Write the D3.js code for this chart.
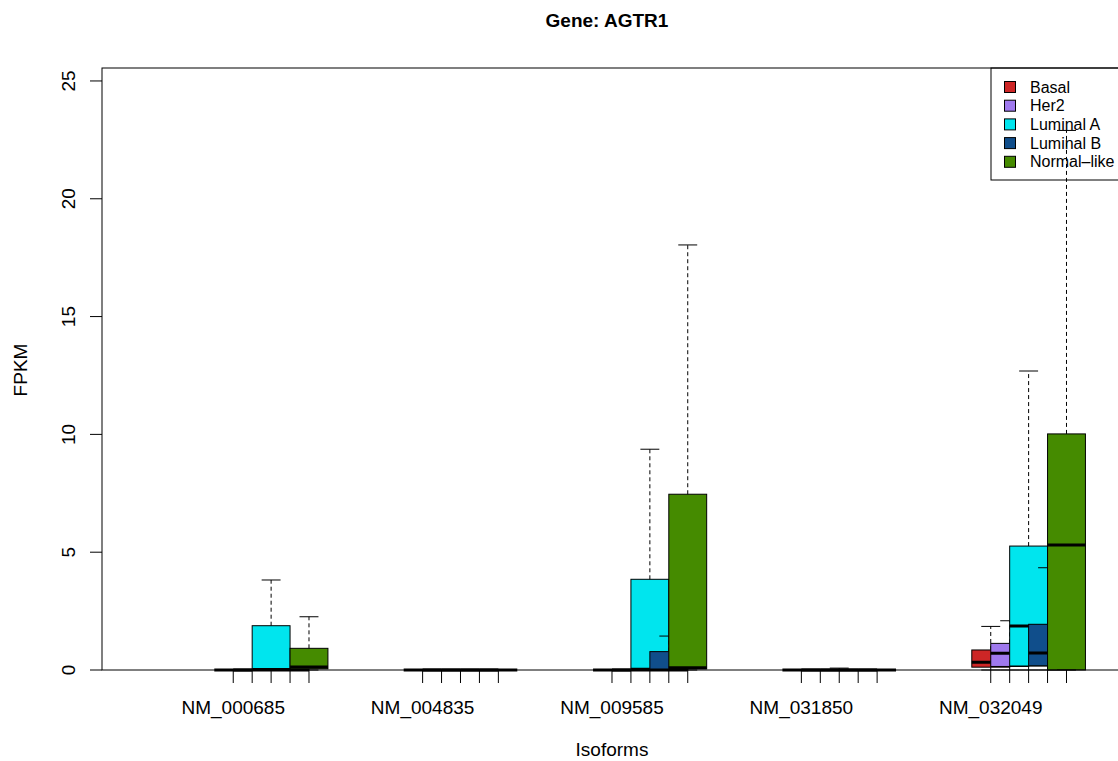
<!DOCTYPE html>
<html>
<head>
<meta charset="UTF-8">
<title>Gene: AGTR1</title>
<script src="https://d3js.org/d3.v7.min.js"></script>
<style>
  body { margin: 0; background: #fff; }
  text { font-family: "Liberation Sans", Arial, Helvetica, sans-serif; }
</style>
</head>
<body>
<div id="chart"></div>
<script>
// data: [low whisker, q1, median, q3, high whisker]
var isoforms = ["NM_000685", "NM_004835", "NM_009585", "NM_031850", "NM_032049"];
var subtypes = ["Basal", "Her2", "Luminal A", "Luminal B", "Normal-like"];
var colors = ["#CD2626", "#9F79EE", "#00E5EE", "#104E8B", "#458B00"];

var basal   = [[0,0,0,0,0], [0,0,0,0,0], [0,0,0,0,0], [0,0,0,0,0], [0,0.12,0.33,0.85,1.85]];
var her2    = [[0,0,0,0,0], [0,0,0,0,0], [0,0,0,0,0], [0,0,0,0,0], [0,0.15,0.71,1.13,2.09]];
var lumA    = [[0,0,0.02,1.88,3.82], [0,0,0,0,0], [0,0,0.03,3.85,9.37], [0,0,0,0,0.08], [0,0.17,1.87,5.26,12.69]];
var lumB    = [[0,0,0,0,0], [0,0,0,0,0], [0,0,0,0.78,1.44], [0,0,0,0,0], [0,0.18,0.72,1.94,4.34]];
var normal  = [[0,0.05,0.13,0.92,2.26], [0,0,0,0,0], [0,0.05,0.1,7.46,18.04], [0,0,0,0,0], [0,0,5.3,10.02,22.9]];
var series = [basal, her2, lumA, lumB, normal];
var yTicks = [0, 5, 10, 15, 20, 25];

var W = 1118, H = 761;
var mLeft = 102, mRight = 1120, mTop = 68, mBottom = 670;

var svg = d3.select("#chart").append("svg").attr("width", W).attr("height", H);

// each isoform occupies slots g*10+1 .. g*10+5
var x = d3.scaleLinear().domain([-5.93, 47.72]).range([mLeft, 1118]);
var y = d3.scaleLinear().domain([0, 25.55]).range([mBottom, mTop]);
var unit = x(1) - x(0);
var bw = unit * 2;

var boxes = [];
isoforms.forEach(function(iso, g) {
  subtypes.forEach(function(s, c) {
    var v = series[c][g];
    boxes.push({pos: g * 10 + c + 1, col: colors[c], lo: v[0], q1: v[1], med: v[2], q3: v[3], hi: v[4]});
  });
});

var gb = svg.append("g");
boxes.forEach(function(b) {
  var cx = x(b.pos);
  gb.append("rect")
    .attr("x", cx - bw / 2).attr("y", y(b.q3))
    .attr("width", bw).attr("height", Math.max(0, y(b.q1) - y(b.q3)))
    .attr("fill", b.col).attr("stroke", "#000").attr("stroke-width", 1);
  // whiskers
  [[b.q3, b.hi], [b.q1, b.lo]].forEach(function(w) {
    if (w[0] !== w[1]) {
      gb.append("line").attr("x1", cx).attr("x2", cx)
        .attr("y1", y(w[0])).attr("y2", y(w[1]))
        .attr("stroke", "#000").attr("stroke-dasharray", "4,3");
    }
    gb.append("line").attr("x1", cx - bw / 4).attr("x2", cx + bw / 4)
      .attr("y1", y(w[1])).attr("y2", y(w[1])).attr("stroke", "#000");
  });
  gb.append("line").attr("x1", cx - bw / 2).attr("x2", cx + bw / 2)
    .attr("y1", y(b.med)).attr("y2", y(b.med))
    .attr("stroke", "#000").attr("stroke-width", 3);
});

// plot frame
svg.append("rect").attr("x", mLeft).attr("y", mTop)
  .attr("width", mRight - mLeft).attr("height", mBottom - mTop)
  .attr("fill", "none").attr("stroke", "#000").attr("stroke-width", 1);

// y axis
var ya = svg.append("g");
ya.selectAll("line").data(yTicks).enter().append("line")
  .attr("x1", mLeft - 12).attr("x2", mLeft)
  .attr("y1", function(d) { return y(d); }).attr("y2", function(d) { return y(d); })
  .attr("stroke", "#000");
ya.selectAll("text").data(yTicks).enter().append("text")
  .attr("transform", function(d) { return "translate(75," + y(d) + ") rotate(-90)"; })
  .attr("text-anchor", "middle").attr("font-size", 19).text(function(d) { return d; });

// x axis
var xa = svg.append("g").attr("transform", "translate(0," + mBottom + ")");
xa.selectAll("line").data(boxes).enter().append("line")
  .attr("x1", function(d) { return x(d.pos); }).attr("x2", function(d) { return x(d.pos); })
  .attr("y1", 0).attr("y2", 13).attr("stroke", "#000");
xa.selectAll("text").data(isoforms).enter().append("text")
  .attr("x", function(d, i) { return x(i * 10 + 1); }).attr("y", 44)
  .attr("text-anchor", "middle").attr("font-size", 19).text(function(d) { return d; });

// titles
svg.append("text").attr("x", 607).attr("y", 27).attr("text-anchor", "middle")
  .attr("font-size", 19).attr("font-weight", "bold").text("Gene: AGTR1");
svg.append("text").attr("x", 612).attr("y", 756).attr("text-anchor", "middle")
  .attr("font-size", 19).text("Isoforms");
svg.append("text").attr("transform", "translate(27,370) rotate(-90)")
  .attr("text-anchor", "middle").attr("font-size", 19).text("FPKM");

// legend
var lg = svg.append("g").attr("transform", "translate(991,68)");
lg.append("rect").attr("x", 0).attr("y", 0).attr("width", 140).attr("height", 112)
  .attr("fill", "none").attr("stroke", "#000");
subtypes.forEach(function(s, i) {
  lg.append("rect").attr("x", 13.5).attr("y", 13.5 + i * 18.7).attr("width", 11).attr("height", 11)
    .attr("fill", colors[i]).attr("stroke", "#000");
  lg.append("text").attr("x", 39).attr("y", 24.5 + i * 18.7).attr("font-size", 16)
    .text(s === "Normal-like" ? "Normal\u2013like" : s);
});
</script>
</body>
</html>
